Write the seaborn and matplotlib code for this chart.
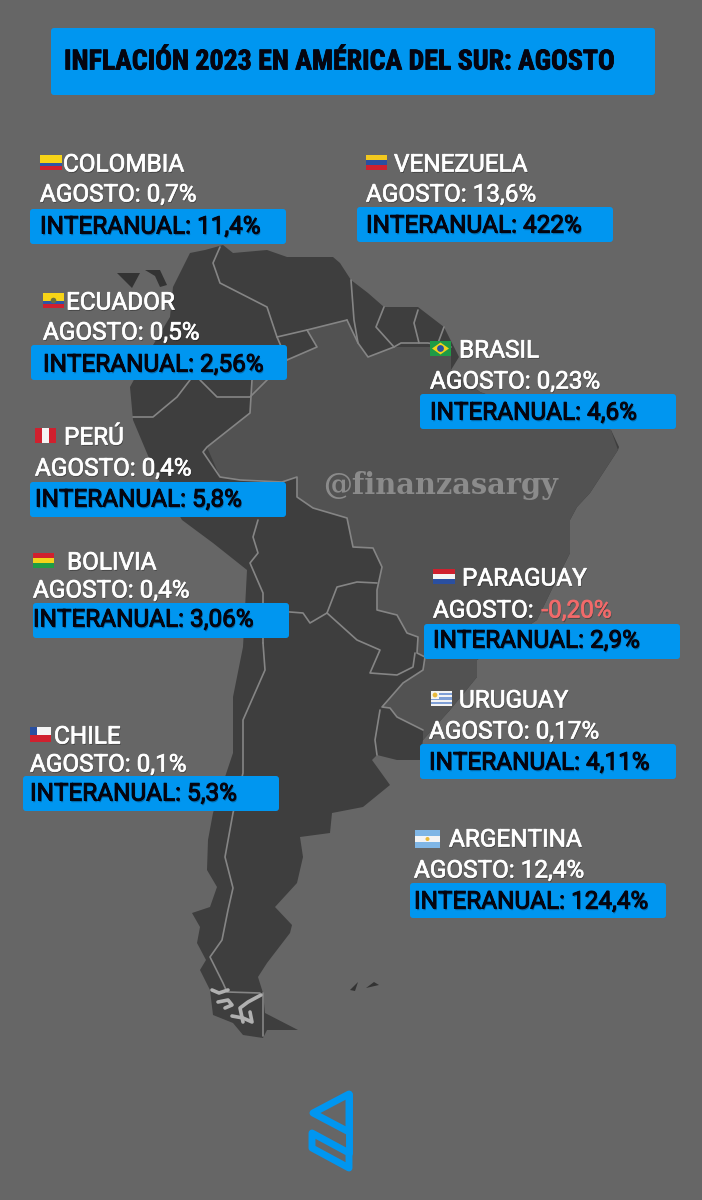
import matplotlib
matplotlib.use("Agg")
import matplotlib.pyplot as plt
import matplotlib.patheffects as pe
from matplotlib import font_manager as fm
from matplotlib.patches import FancyBboxPatch, Rectangle, Polygon, Circle
import pandas as pd
import seaborn as sns

# ---------- data ----------
countries = ["COLOMBIA", "VENEZUELA", "ECUADOR", "BRASIL", "PERÚ", "BOLIVIA",
             "PARAGUAY", "URUGUAY", "CHILE", "ARGENTINA"]
agosto = ["0,7%", "13,6%", "0,5%", "0,23%", "0,4%", "0,4%", "-0,20%", "0,17%", "0,1%", "12,4%"]
interanual = ["11,4%", "422%", "2,56%", "4,6%", "5,8%", "3,06%", "2,9%", "4,11%", "5,3%", "124,4%"]
title = "INFLACIÓN 2023 EN AMÉRICA DEL SUR: AGOSTO"
watermark = "@finanzasargy"

# ---------- layout (pixels) ----------
box_x = [30, 357, 31, 420, 30, 33, 424, 420, 23, 410]
box_y = [209, 207, 345, 394, 482, 603, 624, 744, 776, 883]
text_x = [40, 366, 43, 430, 35, 33, 433, 429, 30, 414]
name_x = [63, 394, 66, 459, 64, 67, 462, 459, 54, 449]
name_y = [164, 164, 302, 350, 437, 562, 578, 700, 736, 839]
ago_y = [194, 194, 332, 381, 468, 590, 610, 731, 764, 870]
int_y = [226, 225, 364, 412, 499, 619, 640, 762, 793, 901]
flag_x = [40, 366, 43, 430, 35, 33, 433, 431, 30, 415]
flag_w = [22, 21, 21, 21, 21, 21, 22, 21, 21, 25]
flag_stripes = [
    ("h", ["#f7d417", "#f7d417", "#2f55a4", "#d0202e"]),
    ("h", ["#f2c81e", "#2a4fa0", "#d0202e"]),
    ("h", ["#f7d417", "#f7d417", "#2f55a4", "#d0202e"]),
    ("h", ["#1f9b46"]),
    ("v", ["#d0202e", "#f4f4f4", "#d0202e"]),
    ("h", ["#d0202e", "#f2d31b", "#1f9b46"]),
    ("h", ["#d0202e", "#f4f4f4", "#2a4fa0"]),
    ("h", ["#f4f4f4", "#7f9fd6", "#f4f4f4", "#7f9fd6", "#f4f4f4", "#7f9fd6", "#f4f4f4"]),
    ("h", ["#f4f4f4", "#d0202e"]),
    ("h", ["#7fb6e6", "#f4f4f4", "#7fb6e6"]),
]

# ---------- map shapes (pixels) ----------
continent = [(173,287),(190,253),(205,250),(223,245),(233,253),(267,250),(287,257),(333,257),(340,263),
             (351,280),(368,293),(384,307),(418,307),(444,327),(459,357),(451,370),(480,392),(530,410),
             (611,430),(619,447),(618,450),(590,493),(577,507),(570,520),(570,553),(553,587),(537,620),
             (477,660),(477,677),(450,710),(423,740),(420,760),(397,760),(377,755),(372,760),(390,785),
             (363,807),(332,813),(330,833),(300,837),(303,857),(297,883),(275,907),(292,925),(290,933),
             (267,963),(258,977),(263,993),(265,1013),(298,1030),(267,1030),(263,1038),(243,1035),
             (233,1023),(213,1015),(210,990),(200,970),(206,960),(197,943),(200,927),(192,913),(210,907),
             (217,887),(207,870),(208,840),(213,813),(233,753),(233,697),(243,647),(247,570),(213,543),
             (182,520),(157,477),(133,420),(130,387),(150,350),(170,317)]
islands = [[(117,273),(140,273),(132,288)], [(145,270),(160,270),(167,285),(160,287),(155,276)],
           [(350,990),(358,982),(355,991)], [(366,988),(374,982),(379,985)]]
brazil = [(451,347),(394,347),(368,357),(358,343),(347,320),(307,330),(317,347),(287,360),(252,380),(250,413),
          (207,447),(220,477),(240,480),(282,482),(297,477),(297,497),(313,508),(347,518),(353,547),(373,548),
          (382,567),(377,590),(377,610),(397,615),(407,633),(418,637),(417,653),(425,657),(423,670),(403,683),
          (382,707),(390,708),(397,717),(423,730),(423,740),(450,710),(477,677),(477,660),(537,620),(553,587),
          (570,553),(570,520),(577,507),(590,493),(618,450),(611,430),(530,410),(480,392),(451,370)]
borders = {
    "co_ve": [(220,247),(213,263),(220,283),(267,307),(277,337),(307,330),(347,320)],
    "co_br": [(277,337),(287,360),(317,347),(307,330)],
    "co_pe": [(200,380),(217,397),(250,397),(287,360)],
    "ec_pe": [(190,380),(177,397),(153,417),(133,417)],
    "br_n": [(347,320),(358,343),(368,357),(394,347),(401,343),(428,343),(451,347)],
    "pe_br": [(252,380),(250,413),(207,447),(203,452),(220,477),(240,480),(282,482),(297,477),(297,497),
              (313,508),(347,518),(353,547),(373,548),(382,567),(377,590),(377,610),(397,615),(407,633),
              (418,637),(417,653),(425,657),(423,670),(403,683),(382,707),(390,708),(397,717),(423,730)],
    "pe_bo": [(258,520),(253,537),(258,553),(250,563),(263,593),(263,643)],
    "bo_py": [(377,583),(357,582),(337,587),(327,613),(310,623),(303,613),(290,612),(263,610)],
    "py_ar": [(327,613),(357,640),(380,650),(370,673),(397,675),(413,667),(415,653)],
    "ur_ar": [(380,710),(375,740),(377,755)],
    "ch_ar": [(263,643),(265,670),(243,720),(243,773),(233,813),(225,857),(233,888),(228,910),(222,940),
              (210,957),(223,983),(227,992),(260,993)],
    "ti_ar": [(263,993),(263,1036)],
    "guy1": [(351,280),(354,320),(358,343)],
    "guy2": [(384,307),(376,327),(394,347)],
    "guy3": [(418,310),(414,323),(419,343)],
    "guy4": [(444,327),(438,343)],
}
straits = [[(212,990),(219,993),(228,990)],
           [(218,1002),(228,1000),(232,1005),(225,1008)],
           [(243,1022),(240,1008),(248,1002),(261,995)],
           [(232,1016),(243,1018),(252,1022),(250,1012)]]
logo_top = [(349,1094),(313,1113),(349,1132)]
logo_bottom = [(312,1133),(349,1153),(349,1168),(312,1148)]
logo_link = [(349,1094),(349,1153)]

BG, BLUE, LAND, LAND2, EDGE = "#666666", "#0096f0", "#3e3e3e", "#525252", "#858585"

sns.set_theme(style="white", rc={"figure.facecolor": BG, "axes.facecolor": BG})
FONT = ["Roboto", "DejaVu Sans"]
plt.rcParams["font.family"] = FONT

names = sorted({f.name for f in fm.fontManager.ttflist})
narrow = [n for n in names if "Narrow" in n or "Condensed" in n]
narrow_pref = [n for n in ["Liberation Sans Narrow", "Roboto Condensed", "Open Sans Condensed"] if n in names] or narrow
TITLE_FONT = (narrow_pref or ["Liberation Sans"])[0]

fig = plt.figure(figsize=(7.02, 12), dpi=100)
ax = fig.add_axes([0, 0, 1, 1])
ax.set_xlim(0, 702)
ax.set_ylim(1200, 0)
ax.axis("off")

ax.add_patch(Polygon(continent, closed=True, fc=LAND, ec="none", zorder=1))
ax.add_patch(Polygon(brazil, closed=True, fc=LAND2, ec="none", zorder=1.1))
for isl in islands:
    ax.add_patch(Polygon(isl, closed=True, fc="#333333", ec="none", zorder=1))

rows = [(k, x, y) for k, pts in borders.items() for x, y in pts]
bdf = pd.DataFrame(rows, columns=["seg", "x", "y"])
sns.lineplot(data=bdf, x="x", y="y", units="seg", estimator=None, sort=False,
             color=EDGE, lw=1.2, ax=ax, zorder=2, legend=False)
ax.set_xlim(0, 702)
ax.set_ylim(1200, 0)
ax.axis("off")
for s in straits:
    ax.plot(*zip(*s), color="#b0b0b0", lw=2.6, zorder=2.1, solid_capstyle="round")

def fx_white(col="white"):
    return [pe.SimplePatchShadow(offset=(0.6, -1), shadow_rgbFace="#000000", alpha=0.3),
            pe.Stroke(linewidth=0.5, foreground=col), pe.Normal()]

fx_black = [pe.SimplePatchShadow(offset=(0.6, -1.2), shadow_rgbFace="#00365c", alpha=0.45),
            pe.Stroke(linewidth=0.7, foreground="#050510"), pe.Normal()]

ax.text(441, 485, watermark, color="#8b8b8b", fontsize=20.8, fontweight="bold",
        family="DejaVu Serif", ha="center", va="center", zorder=2.5)

def box(x, y, w, h):
    ax.add_patch(FancyBboxPatch((x + 3, y + 3), w - 6, h - 6, boxstyle="round,pad=3,rounding_size=3",
                                fc=BLUE, ec="none", zorder=3))

box(51, 28, 604, 67)
tt = ax.text(64, 62, title, color="#050510", fontsize=20, fontweight="bold",
             family=[TITLE_FONT, "Liberation Sans"], va="center", ha="left", zorder=4,
             path_effects=[pe.Stroke(linewidth=0.6, foreground="#050510"), pe.Normal()])
fig.canvas.draw()
tw = tt.get_window_extent().width
tt.set_fontsize(20 * 551 / tw)

FS = 17.5
for i, c in enumerate(countries):
    box(box_x[i], box_y[i], 256, 35)
    kw = dict(fontsize=FS, va="center", ha="left", zorder=4)
    ax.text(name_x[i], name_y[i] + 1, c, color="white", path_effects=fx_white(), **kw)
    neg = agosto[i].startswith("-")
    t = ax.text(text_x[i], ago_y[i] + 1, "AGOSTO: " + ("" if neg else agosto[i]), color="white",
                path_effects=fx_white(), **kw)
    if neg:
        fig.canvas.draw()
        bb = t.get_window_extent().transformed(ax.transData.inverted())
        ax.text(max(bb.x0, bb.x1) + 2, ago_y[i] + 1, agosto[i], color="#f26a6a",
                path_effects=fx_white("#f26a6a"), **kw)
    ax.text(text_x[i], int_y[i] + 1, "INTERANUAL: " + interanual[i], color="#050510",
            path_effects=fx_black, **kw)
    # flag
    fw, fh = flag_w[i], (18 if c == "ARGENTINA" else 15)
    fx, fy = flag_x[i], name_y[i] - 9
    orient, cols = flag_stripes[i]
    n = len(cols)
    for j, col in enumerate(cols):
        if orient == "h":
            r = Rectangle((fx, fy + j * fh / n), fw, fh / n, fc=col, ec="none", zorder=4)
        else:
            r = Rectangle((fx + j * fw / n, fy), fw / n, fh, fc=col, ec="none", zorder=4)
        ax.add_patch(r)
    cx, cy = fx + fw / 2, fy + fh / 2
    if c == "BRASIL":
        ax.add_patch(Polygon([(fx + 2, cy), (cx, fy + 1.5), (fx + fw - 2, cy), (cx, fy + fh - 1.5)],
                             closed=True, fc="#f2d31b", ec="none", zorder=4.1))
        ax.add_patch(Circle((cx, cy), 3.4, fc="#2a4fa0", ec="none", zorder=4.2))
    if c == "CHILE":
        ax.add_patch(Rectangle((fx, fy), 7, fh / 2, fc="#2a4fa0", ec="none", zorder=4.1))
    if c == "URUGUAY":
        ax.add_patch(Rectangle((fx, fy), 8, 8, fc="#f4f4f4", ec="none", zorder=4.1))
        ax.add_patch(Circle((fx + 4, fy + 4), 2.4, fc="#e8b93a", ec="none", zorder=4.2))
    if c == "ARGENTINA":
        ax.add_patch(Circle((cx, cy), 2, fc="#e8b93a", ec="none", zorder=4.2))
    if c == "ECUADOR":
        ax.add_patch(Circle((cx, cy), 2.8, fc="#6b6f3a", ec="none", zorder=4.2))

ax.add_patch(Polygon(logo_top, closed=True, fc="none", ec=BLUE, lw=5, joinstyle="round", zorder=3))
ax.add_patch(Polygon(logo_bottom, closed=True, fc="none", ec=BLUE, lw=5, joinstyle="round", zorder=3))
ax.plot(*zip(*logo_link), color=BLUE, lw=5, zorder=3, solid_capstyle="round")

fig.savefig("out.png", dpi=100, facecolor=BG)
